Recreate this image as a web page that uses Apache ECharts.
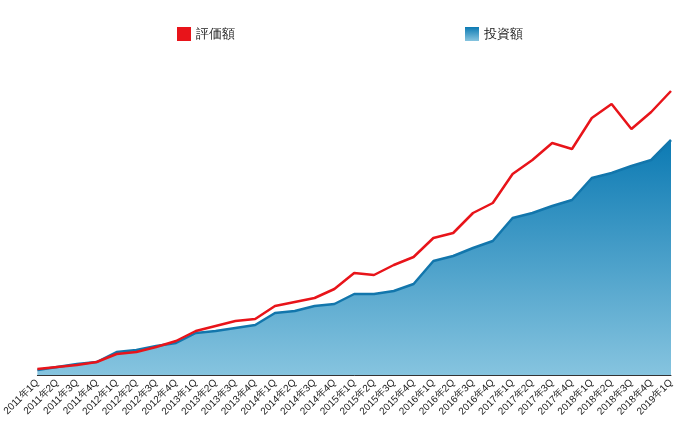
<!DOCTYPE html>
<html><head><meta charset="utf-8">
<script src="https://cdn.jsdelivr.net/npm/echarts@6/dist/echarts.min.js"></script>
<style>html,body{margin:0;background:#fff}#c{width:700px;height:431px}</style>
</head><body><div id="c"></div>
<script>
// 四半期ラベル
const quarters = [];
for (let y = 2011; y <= 2019; y++) for (let q = 1; q <= 4; q++) if (y < 2019 || q === 1) quarters.push(y + '年' + q + 'Q');
const valuation = [6, 8, 10, 13, 21, 23, 28, 34, 44, 49, 54, 56, 69, 73, 77, 86, 102, 100, 110, 118, 137, 142, 162, 172, 201, 215, 232, 226, 257, 271, 246, 263, 284];
const investment = [5, 8, 11, 13, 23, 25, 29, 32, 42, 44, 47, 50, 62, 64, 69, 71, 81, 81, 84, 91, 114, 119, 127, 134, 157, 162, 169, 175, 197, 202, 209, 215, 235];

const chart = echarts.init(document.getElementById('c'));
chart.setOption({
    animation: false,
    legend: {
        top: 22,
        itemGap: 230,
        textStyle: { fontSize: 13, color: '#222' },
        data: [
            { name: '評価額', icon: 'rect', itemStyle: { color: '#e8141a' } },
            { name: '投資額', icon: 'rect' }
        ],
        itemWidth: 14, itemHeight: 14
    },
    grid: { left: 33, right: 29, top: 75, bottom: 56 },
    xAxis: {
        type: 'category', boundaryGap: false, data: quarters,
        axisLine: { lineStyle: { color: '#333' } },
        axisTick: { show: false },
        axisLabel: { rotate: 45, fontSize: 10, color: '#222', interval: 0, margin: 6 }
    },
    yAxis: { type: 'value', min: 0, max: 300, show: false },
    series: [
        {
            name: '投資額', type: 'line', data: investment, symbol: 'none',
            lineStyle: { color: '#1276ac', width: 2.5 },
            itemStyle: { color: new echarts.graphic.LinearGradient(0, 0, 0, 1, [{ offset: 0, color: '#0c7ab3' }, { offset: 1, color: '#86c4df' }]) },
            areaStyle: { opacity: 1, color: new echarts.graphic.LinearGradient(0, 0, 0, 1, [{ offset: 0, color: '#0c7ab3' }, { offset: 1, color: '#86c4df' }]) }
        },
        {
            name: '評価額', type: 'line', data: valuation, symbol: 'none',
            lineStyle: { color: '#e8141a', width: 2.5 },
            itemStyle: { color: '#e8141a' }
        }
    ]
});
</script></body></html>
